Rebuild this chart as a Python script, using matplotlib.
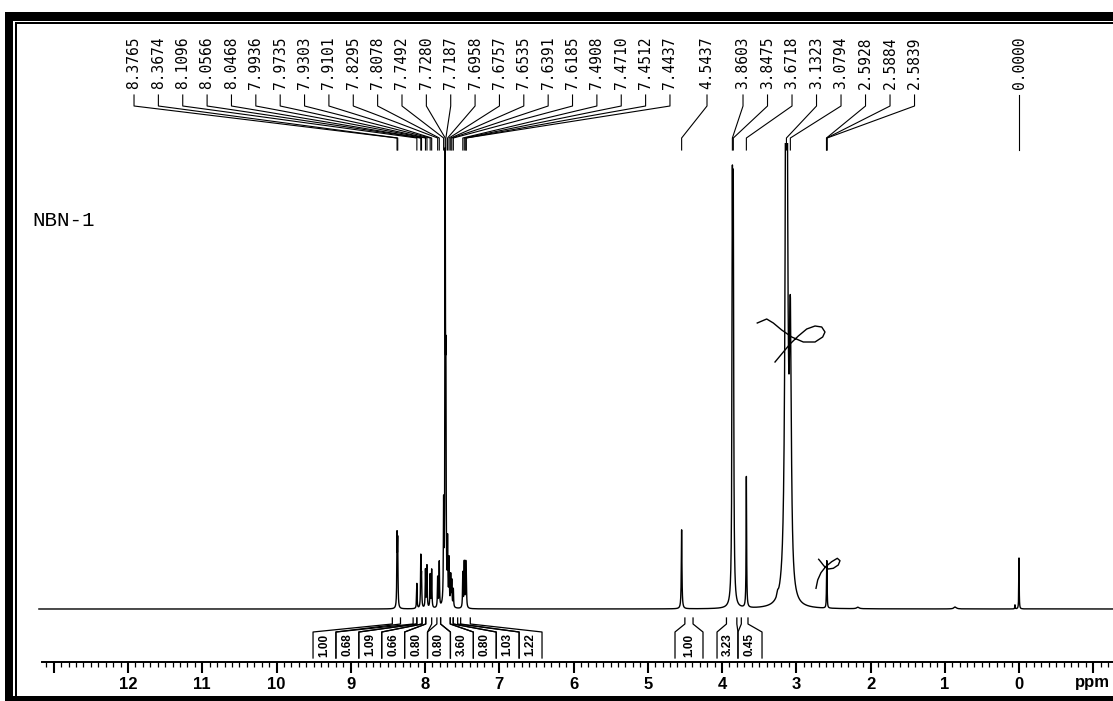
import matplotlib.pyplot as plt
import numpy as np
from matplotlib.patches import Rectangle
from matplotlib.ticker import FixedLocator

plt.rcParams['font.family'] = ['Liberation Sans', 'DejaVu Sans']

# chemical shifts printed above the trace
shift_labels = ["8.3765", "8.3674", "8.1096", "8.0566", "8.0468", "7.9936", "7.9735",
                "7.9303", "7.9101", "7.8295", "7.8078", "7.7492", "7.7280", "7.7187",
                "7.6958", "7.6757", "7.6535", "7.6391", "7.6185", "7.4908", "7.4710",
                "7.4512", "7.4437",
                "4.5437",
                "3.8603", "3.8475", "3.6718", "3.1323", "3.0794", "2.5928", "2.5884", "2.5839",
                "0.0000"]
shift_ppm = np.array([float(s) for s in shift_labels])

# peak heights (arbitrary units) and half widths (ppm)
peak_height = np.array([68, 62, 25, 50, 30, 38, 42,
                        33, 38, 30, 45, 95, 425, 200,
                        60, 45, 30, 25, 18, 35, 45,
                        40, 28,
                        79,
                        375, 370, 131, 850, 250, 12, 40, 12,
                        51])
peak_hwhm = np.array([0.004] * 23 + [0.005] + [0.006, 0.006, 0.004, 0.015, 0.015,
                                              0.003, 0.003, 0.003] + [0.003])

# weak extra bumps on the baseline
minor_ppm = [3.25, 2.17, 0.86, 0.054]
minor_height = [4, 1.5, 2, 4]
minor_hwhm = [0.01, 0.02, 0.02, 0.003]

# integrals
integral_values = ["1.00", "0.68", "1.09", "0.66", "0.80", "0.80", "3.60", "0.80", "1.03", "1.22",
                   "1.00", "3.23", "0.45"]
integral_from = [8.44, 8.16, 8.11, 8.04, 7.99, 7.84, 7.79, 7.66, 7.62, 7.52, 4.50, 3.94, 3.74]
integral_to = [8.33, 8.11, 8.04, 7.99, 7.91, 7.79, 7.66, 7.62, 7.56, 7.39, 4.39, 3.80, 3.65]

# hand-drawn integral traces over the 3.1 and 2.6 ppm peaks
loop1_ppm = [3.525, 3.398, 3.309, 3.196, 3.061, 2.905, 2.747, 2.644, 2.613, 2.657,
             2.747, 2.859, 2.972, 3.084, 3.174, 3.286]
loop1_int = [286, 290, 286, 279, 272, 267, 267, 272, 277, 282, 283, 280, 273, 265, 257, 247]
loop2_ppm = [2.734, 2.711, 2.667, 2.604, 2.523, 2.447, 2.411, 2.434, 2.501, 2.568,
             2.626, 2.671, 2.698]
loop2_int = [20.7, 29, 36.3, 42.3, 47.3, 50.7, 48.3, 44, 40.7, 40, 43, 47.3, 49.7]

W, H = 1113, 701
fig = plt.figure(figsize=(W / 100, H / 100), dpi=100)
ax = fig.add_axes([0, 0, 1, 1])
ax.set_xlim(13.724, -1.266)
ax.set_ylim(-92, 609)

ppm = np.linspace(-1.3, 13.2, 60000)
spec = np.zeros_like(ppm)
for c, h, g in zip(shift_ppm, peak_height, peak_hwhm):
    spec += h / (1 + ((ppm - c) / g) ** 2)
for c, h, g in zip(minor_ppm, minor_height, minor_hwhm):
    spec += h / (1 + ((ppm - c) / g) ** 2)
line, = ax.plot(ppm, spec, color='black', lw=1.0)
clip = Rectangle((13.724, -53), -15, 519, transform=ax.transData)
line.set_clip_path(clip)

ax.plot(loop1_ppm, loop1_int, color='black', lw=1.0)
ax.plot(loop2_ppm, loop2_int, color='black', lw=1.0)

# peak labels and their connectors
label_x = np.concatenate([11.919 - np.arange(23) * 0.3281, [4.202],
                          3.717 - np.arange(8) * 0.33, [0.0]])
for s, lx, p in zip(shift_labels, label_x, shift_ppm):
    ax.text(lx, 520, s, rotation=90, ha='center', va='bottom',
            family='DejaVu Sans Mono', fontsize=10.5)
    ax.plot([lx, lx, p, p], [514, 503, 471, 459], color='black', lw=0.8)

ax.text(13.293, 389, "NBN-1", ha='left', va='center', family='Liberation Mono', fontsize=15)

# integral boxes
box_edges = [(9.508 - k * 0.3084, 9.508 - (k + 1) * 0.3084) for k in range(10)]
box_edges += [(4.633, 4.256), (4.067, 3.785), (3.785, 3.461)]
for val, (L, R), a, b in zip(integral_values, box_edges, integral_from, integral_to):
    ax.plot([L, L, a, a], [-49, -23, -15, -9], color='black', lw=0.9)
    ax.plot([R, R, b, b], [-49, -23, -15, -9], color='black', lw=0.9)
    ax.text((L + R) / 2, -36, val, rotation=90, ha='center', va='center',
            fontweight='bold', fontsize=8.5)

# ppm axis
for side in ['left', 'right', 'top']:
    ax.spines[side].set_visible(False)
ax.spines['bottom'].set_position(('data', -53))
ax.spines['bottom'].set_bounds(13.16, -1.266)
ax.spines['bottom'].set_linewidth(1.4)
ax.set_yticks([])
major = list(range(-1, 14))
ax.xaxis.set_major_locator(FixedLocator(major))
ax.set_xticklabels(['' if (t < 0 or t > 12) else str(t) for t in major],
                   fontweight='bold', fontsize=12)
ax.xaxis.set_minor_locator(FixedLocator(np.round(np.arange(-1.2, 13.15, 0.1), 1)))
ax.tick_params(axis='x', which='major', direction='out', length=8, width=1.5, pad=3)
ax.tick_params(axis='x', which='minor', direction='out', length=3.5, width=0.9)
ax.text(-0.75, -73, "ppm", ha='left', va='center', fontweight='bold', fontsize=12)

# frame of the scanned page
def frame(x0, y0, x1, y1):
    fig.add_artist(Rectangle((x0 / W, 1 - y1 / H), (x1 - x0) / W, (y1 - y0) / H,
                             transform=fig.transFigure, color='black', lw=0))

frame(5, 12, 13, 701)
frame(5, 12, W, 21)
frame(5, 696, W, 701)
frame(15, 22, 17, 696)
frame(15, 22, W, 24)

fig.savefig("out.png", dpi=100, facecolor='white')
